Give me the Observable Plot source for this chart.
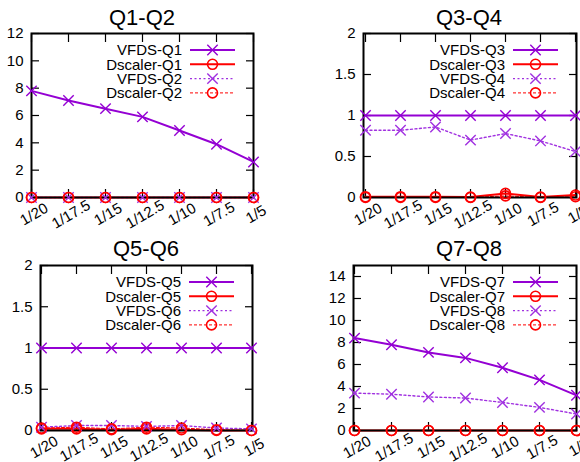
<!DOCTYPE html>
<html>
<head>
<meta charset="utf-8">
<script src="https://cdn.jsdelivr.net/npm/d3@7"></script>
<script src="https://cdn.jsdelivr.net/npm/@observablehq/plot@0.6"></script>
<style>
  html, body { margin: 0; padding: 0; background: #fff; }
  #root { position: relative; width: 580px; height: 462px; overflow: hidden; background: #fff;
          font-family: "Liberation Sans", Arial, Helvetica, sans-serif; color: #000; }
  .panel { position: absolute; width: 290px; height: 231px; }
  .panel svg { position: absolute; left: 0; top: 0; overflow: visible; }
  .title { position: absolute; font-size: 22px; line-height: 22px; text-align: center; width: 120px; white-space: nowrap; }
</style>
</head>
<body>
<div id="root"></div>
<script>
// ---- data ----
const xLabels = ["1/20", "1/17.5", "1/15", "1/12.5", "1/10", "1/7.5", "1/5"];

const vfdsQ1 = [7.8, 7.1, 6.5, 5.9, 4.9, 3.9, 2.6];
const dscalerQ1 = [0, 0, 0, 0, 0, 0, 0];
const vfdsQ2 = [0, 0, 0, 0, 0, 0, 0];
const dscalerQ2 = [0, 0, 0, 0, 0, 0, 0];

const vfdsQ3 = [1, 1, 1, 1, 1, 1, 1];
const dscalerQ3 = [0.01, 0.01, 0.01, 0.005, 0.05, 0.005, 0.03];
const vfdsQ4 = [0.82, 0.82, 0.86, 0.70, 0.78, 0.69, 0.56];
const dscalerQ4 = [0, 0, 0, 0, 0.02, 0, 0.01];

const vfdsQ5 = [1, 1, 1, 1, 1, 1, 1];
const dscalerQ5 = [0.02, 0.02, 0.01, 0.02, 0.01, 0, 0];
const vfdsQ6 = [0.04, 0.06, 0.06, 0.05, 0.06, 0.03, 0.02];
const dscalerQ6 = [0.03, 0.04, 0.02, 0.04, 0.03, 0.01, 0];

const vfdsQ7 = [8.4, 7.8, 7.1, 6.6, 5.7, 4.6, 3.2];
const dscalerQ7 = [0, 0, 0, 0, 0, 0, 0];
const vfdsQ8 = [3.4, 3.3, 3.05, 2.95, 2.55, 2.1, 1.5];
const dscalerQ8 = [0, 0, 0, 0, 0, 0, 0];

const titles = ["Q1-Q2", "Q3-Q4", "Q5-Q6", "Q7-Q8"];
const ticks12 = [0, 2, 4, 6, 8, 10, 12];
const ticks2 = [0, 0.5, 1, 1.5, 2];
const ticks14 = [0, 2, 4, 6, 8, 10, 12, 14];

// ---- styles ----
const PURPLE = "#9400d3";
const PURPLE_LIGHT = "#a030e0";
const RED = "#ff0000";
const seriesStyles = [
  {kind: "x", stroke: PURPLE, width: 2, dash: null},
  {kind: "o", stroke: RED, width: 2, dash: null},
  {kind: "x", stroke: PURPLE_LIGHT, width: 1.4, dash: "2,2.5"},
  {kind: "o", stroke: RED, width: 1, dash: "3,2"}
];

const panels = [
  {left: 0, top: 0, mL: 31, mR: 37, mT: 33, mB: 34, domain: [0, 12], ticks: ticks12,
   names: ["VFDS-Q1", "Dscaler-Q1", "VFDS-Q2", "Dscaler-Q2"], series: [vfdsQ1, dscalerQ1, vfdsQ2, dscalerQ2], titleX: 142},
  {left: 290, top: 0, mL: 73, mR: 4, mT: 33, mB: 34, domain: [0, 2], ticks: ticks2,
   names: ["VFDS-Q3", "Dscaler-Q3", "VFDS-Q4", "Dscaler-Q4"], series: [vfdsQ3, dscalerQ3, vfdsQ4, dscalerQ4], titleX: 179},
  {left: 0, top: 231, mL: 40, mR: 38, mT: 34, mB: 32, domain: [0, 2], ticks: ticks2,
   names: ["VFDS-Q5", "Dscaler-Q5", "VFDS-Q6", "Dscaler-Q6"], series: [vfdsQ5, dscalerQ5, vfdsQ6, dscalerQ6], titleX: 146},
  {left: 290, top: 231, mL: 63, mR: 4, mT: 34, mB: 32, domain: [0, 15], ticks: ticks14,
   names: ["VFDS-Q7", "Dscaler-Q7", "VFDS-Q8", "Dscaler-Q8"], series: [vfdsQ7, dscalerQ7, vfdsQ8, dscalerQ8], titleX: 179}
];

const root = document.getElementById("root");

panels.forEach((p, pi) => {
  const div = document.createElement("div");
  div.className = "panel";
  div.style.left = p.left + "px";
  div.style.top = p.top + "px";
  root.appendChild(div);

  const rows = [];
  p.series.forEach((vals, si) => vals.forEach((v, i) => rows.push({s: si, x: xLabels[i], y: v})));

  const lineMarks = seriesStyles.map((st, si) =>
    Plot.line(rows.filter(d => d.s === si), {
      x: "x", y: "y", stroke: st.stroke, strokeWidth: st.width,
      strokeDasharray: st.dash, curve: "linear"
    }));

  const markerMarks = seriesStyles.map((st, si) =>
    st.kind === "x"
      ? Plot.dot(rows.filter(d => d.s === si), {x: "x", y: "y", symbol: "times", r: 4.8, stroke: st.stroke, strokeWidth: 1.4})
      : Plot.dot(rows.filter(d => d.s === si), {x: "x", y: "y", symbol: "circle", r: 5, stroke: st.stroke, strokeWidth: 1.6, fill: "none"}));

  const svg = Plot.plot({
    width: 290,
    height: 231,
    marginLeft: p.mL, marginRight: p.mR, marginTop: p.mT, marginBottom: p.mB,
    style: {fontFamily: "'Liberation Sans', Arial, sans-serif", fontSize: "15px", background: "transparent", overflow: "visible"},
    x: {type: "point", domain: xLabels, padding: 0},
    y: {domain: p.domain, ticks: p.ticks},
    marks: [
      // inward tick marks on all four sides
      Plot.axisY(p.ticks, {anchor: "left", tickSize: 8, dx: 8, fill: "none", label: null, stroke: "#000", strokeWidth: 1.2}),
      Plot.axisY(p.ticks, {anchor: "right", tickSize: 8, dx: -8, fill: "none", label: null, stroke: "#000", strokeWidth: 1.2}),
      Plot.axisX(xLabels, {anchor: "bottom", tickSize: 8, dy: -8, fill: "none", label: null, stroke: "#000", strokeWidth: 1.2}),
      Plot.axisX(xLabels, {anchor: "top", tickSize: 8, dy: 8, fill: "none", label: null, stroke: "#000", strokeWidth: 1.2}),
      // y tick labels
      Plot.axisY(p.ticks, {anchor: "left", tickSize: 0, tickPadding: 8, label: null, fontSize: 15, tickFormat: d => String(d), fill: "#000"}),
      // x tick labels (rotated)
      Plot.text(xLabels, {x: d => d, frameAnchor: "bottom", dy: 21, dx: 5, rotate: -30, fontSize: 15, textAnchor: "middle", fill: "#000"}),
      ...lineMarks,
      Plot.frame({stroke: "#000", strokeWidth: 2}),
      ...markerMarks
    ]
  });
  div.appendChild(svg);

  // legend (inside top-right of the frame)
  const g = d3.select(svg).append("g").attr("class", "legend");
  const frameRight = 290 - p.mR;
  const sym = d3.symbol(d3.symbolTimes, Math.PI * 4.8 * 4.8)();
  seriesStyles.forEach((st, i) => {
    const y = p.mT + 17 + i * 14.3;
    g.append("text")
      .attr("x", frameRight - 71).attr("y", y).attr("dy", "0.35em")
      .attr("text-anchor", "end").attr("font-size", 15)
      .attr("font-family", "'Liberation Sans', Arial, sans-serif")
      .attr("fill", "#000")
      .text(p.names[i]);
    g.append("line")
      .attr("x1", frameRight - 63).attr("x2", frameRight - 18)
      .attr("y1", y).attr("y2", y)
      .attr("stroke", st.stroke).attr("stroke-width", st.width)
      .attr("stroke-dasharray", st.dash);
    const cx = frameRight - 40.5;
    if (st.kind === "x") {
      g.append("path").attr("d", sym).attr("transform", `translate(${cx},${y})`)
        .attr("stroke", st.stroke).attr("stroke-width", 1.4).attr("fill", "none");
    } else {
      g.append("circle").attr("cx", cx).attr("cy", y).attr("r", 5)
        .attr("stroke", st.stroke).attr("stroke-width", 1.6).attr("fill", "none");
    }
  });

  const t = document.createElement("div");
  t.className = "title";
  t.textContent = titles[pi];
  t.style.left = (p.titleX - 60) + "px";
  t.style.top = "7px";
  div.appendChild(t);
});
</script>
</body>
</html>
